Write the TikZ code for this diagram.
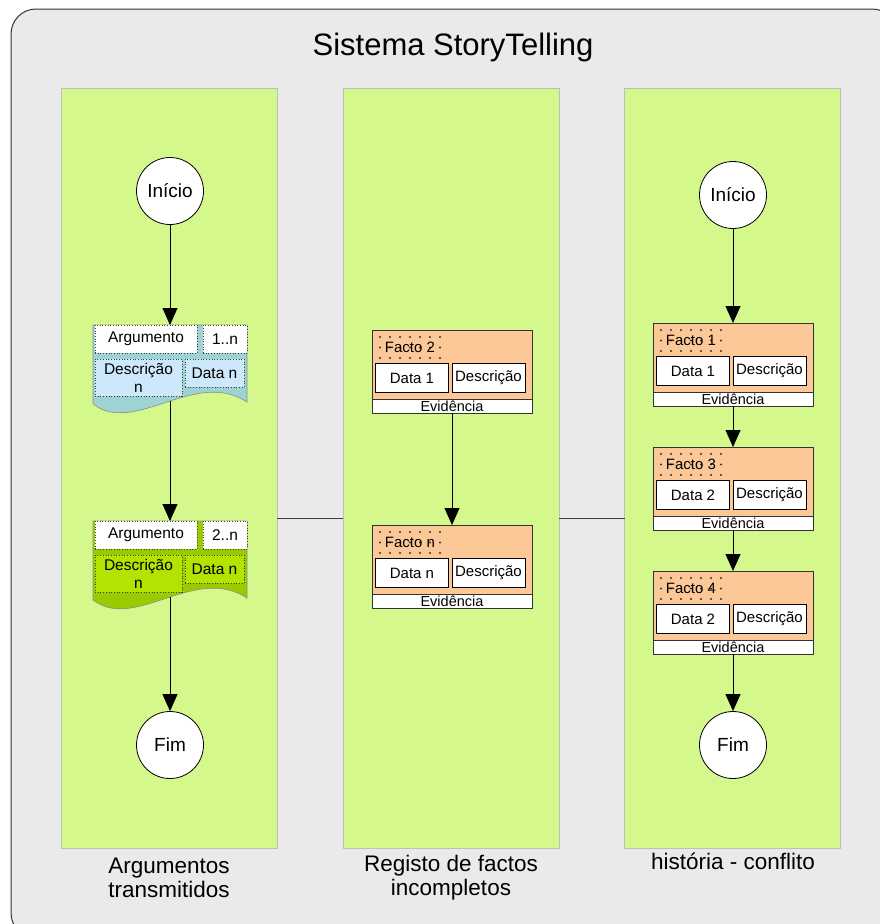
\documentclass[tikz,border=0pt]{standalone}
\usepackage{fontspec}
\setmainfont{Liberation Sans}
\usetikzlibrary{arrows.meta,calc}
\definecolor{bgc}{HTML}{EAEAEA}
\definecolor{lanec}{HTML}{D4F88C}
\definecolor{laneb}{HTML}{BEBEBE}
\definecolor{docblue}{HTML}{9ED3D3}
\definecolor{cellblue}{HTML}{CDE8FA}
\definecolor{docgreen}{HTML}{99CC00}
\definecolor{cellgreen}{HTML}{B3E300}
\definecolor{factc}{HTML}{FCC897}
\newcommand\factblock[5]{%
  \node[fbox, anchor=north west] (#1) at (#2,#3) {};
  \node[evbox, anchor=north west] (#1e) at (#1.south west) {Evidência};
  \foreach \i in {0,...,6} \foreach \j in {0,1,2}
    \fill[black!80] ($(#1.north west)+(8+10*\i,7+10.5*\j)$) circle (1.1pt);
  \node[flabel] (#1l) at ($(#1.north west)+(38,17.5)$) {#4};
  \node[fcell, anchor=north west] (#1d) at ($(#1.north west)+(3.5,33.5)$) {#5};
  \node[fcell, anchor=north west] (#1s) at ($(#1.north west)+(80,33.5)$) {Descrição};
}
\begin{document}
\begin{tikzpicture}[x=1pt,y=-1pt,
  lane/.style={draw=laneb, fill=lanec, line width=0.8pt, minimum width=216pt, minimum height=760pt, inner sep=0pt, outer sep=0pt},
  term/.style={circle, draw=black, fill=white, line width=0.8pt, minimum size=67pt, inner sep=0pt, font=\fontsize{19}{22}\selectfont},
  flow/.style={draw=black, line width=0.9pt, -{Triangle[length=17pt,width=15pt]}},
  dcell/.style={draw=black!75, dotted, line width=0.7pt, inner sep=0pt, outer sep=0pt, font=\fontsize{15.5}{18}\selectfont, align=center, anchor=north west},
  fbox/.style={draw=black!80, fill=factc, line width=0.8pt, minimum width=160pt, minimum height=69pt, inner sep=0pt, outer sep=0pt},
  evbox/.style={draw=black!80, fill=white, line width=0.8pt, minimum width=160pt, minimum height=14pt, inner sep=0pt, outer sep=0pt, font=\fontsize{14.5}{14}\selectfont},
  fcell/.style={draw=black, fill=white, line width=0.8pt, minimum width=73pt, minimum height=29pt, inner sep=0pt, outer sep=0pt, font=\fontsize{15}{18}\selectfont},
  flabel/.style={inner sep=0pt, font=\fontsize{15}{18}\selectfont},
  lanelab/.style={font=\fontsize{22.5}{24}\selectfont, align=center, inner sep=0pt},
  docline/.style={draw=black!45, line width=0.6pt}
]
\useasboundingbox (0,0) rectangle (880,924);
\clip (0,0) rectangle (880,924);
\fill[white] (0,0) rectangle (880,924);
\draw[fill=bgc, draw=black!80, line width=1pt, rounded corners=25pt] (11,9) rectangle (897,938);

\node[font=\fontsize{31}{34}\selectfont, inner sep=0pt] (title) at (453,47) {Sistema StoryTelling};

% lanes
\node[lane] (L1) at (169,468) {};
\node[lane] (L2) at (451,468) {};
\node[lane] (L3) at (732.5,468) {};
\draw[black!75, line width=0.8pt] ([yshift=-50pt]L1.east) -- ([yshift=-50pt]L2.west);
\draw[black!75, line width=0.8pt] ([yshift=-50pt]L2.east) -- ([yshift=-50pt]L3.west);

\node[lanelab] (lab1) at (169,878) {Argumentos\\transmitidos};
\node[lanelab] (lab2) at (451,878) {Registo de factos\\incompletos};
\node[lanelab] (lab3) at (733,861) {história - conflito};

% left lane
\node[term] (startL) at (170,191) {Início};
\node[term] (endL) at (170,745) {Fim};

\path[fill=docblue, docline] (93,325) -- (247,325) -- (247,402) .. controls (195,368) and (135,436) .. (93,404) -- cycle;
\node[dcell, fill=white, minimum width=102pt, minimum height=28pt] (d1a) at (95,325) {Argumento};
\node[dcell, fill=white, minimum width=44pt, minimum height=28pt] (d1n) at (203,325) {1..n};
\node[dcell, fill=cellblue, minimum width=87pt, minimum height=37pt] (d1d) at (95,359) {Descrição\\n};
\node[dcell, fill=cellblue, minimum width=59pt, minimum height=28pt] (d1t) at (185,359) {Data n};
\coordinate (d1top) at (170,325);
\coordinate (d1bot) at (170,401);

\path[fill=docgreen, docline] (93,521) -- (247,521) -- (247,598) .. controls (195,564) and (135,632) .. (93,600) -- cycle;
\node[dcell, fill=white, minimum width=102pt, minimum height=28pt] (d2a) at (95,521) {Argumento};
\node[dcell, fill=white, minimum width=44pt, minimum height=28pt] (d2n) at (203,521) {2..n};
\node[dcell, fill=cellgreen, minimum width=87pt, minimum height=37pt] (d2d) at (95,555) {Descrição\\n};
\node[dcell, fill=cellgreen, minimum width=59pt, minimum height=28pt] (d2t) at (185,555) {Data n};
\coordinate (d2top) at (170,521);
\coordinate (d2bot) at (170,597);

\draw[flow] (startL) -- (d1top);
\draw[flow] (d1bot) -- (d2top);
\draw[flow] (d2bot) -- (endL);

% middle lane
\factblock{m1}{372}{330}{Facto 2}{Data 1}
\factblock{m2}{372}{525}{Facto n}{Data n}
\draw[flow] (m1e.south) -- (m2.north);

% right lane
\node[term] (startR) at (733,195) {Início};
\node[term] (endR) at (733,745) {Fim};
\factblock{r1}{653}{323}{Facto 1}{Data 1}
\factblock{r2}{653}{447}{Facto 3}{Data 2}
\factblock{r3}{653}{571}{Facto 4}{Data 2}
\draw[flow] (startR) -- (r1.north);
\draw[flow] (r1e.south) -- (r2.north);
\draw[flow] (r2e.south) -- (r3.north);
\draw[flow] (r3e.south) -- (endR);
\end{tikzpicture}
\end{document}
